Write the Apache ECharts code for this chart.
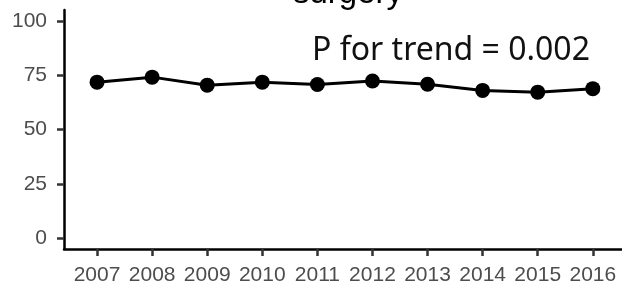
<!DOCTYPE html>
<html><head><meta charset="utf-8">
<script src="https://cdn.jsdelivr.net/npm/echarts@6/dist/echarts.min.js"></script>
<style>html,body{margin:0;padding:0;background:#fff}#c{width:622px;height:286px}</style>
</head><body><div id="c"></div>
<script>
const years = [2007, 2008, 2009, 2010, 2011, 2012, 2013, 2014, 2015, 2016];
const values = [71.8, 74.1, 70.4, 71.8, 70.7, 72.3, 70.8, 68.0, 67.2, 68.8];
const yTicks = [0, 25, 50, 75, 100];
const titleText = 'surgery';
const annotation = 'P for trend = 0.002';

const chart = echarts.init(document.getElementById('c'), null, {renderer: 'canvas'});
chart.setOption({
  animation: false,
  backgroundColor: '#fff',
  title: {
    text: titleText, left: 343, textAlign: 'center', top: -28,
    textStyle: {fontFamily: 'Liberation Sans', fontSize: 33, fontWeight: 'normal', color: '#000'}
  },
  grid: {left: 64, right: 0, top: 10, bottom: 36},
  xAxis: {
    type: 'value', min: 2006.4, max: 2016.53,
    splitLine: {show: false},
    axisLine: {show: true, onZero: false, lineStyle: {color: '#000', width: 2.5}},
    axisTick: {show: true, customValues: years, length: 7, lineStyle: {color: '#333', width: 2.5}},
    axisLabel: {customValues: years, margin: 16, fontFamily: 'Liberation Sans', fontSize: 21, color: '#4d4d4d', formatter: v => String(v)}
  },
  yAxis: {
    type: 'value', min: -5, max: 105,
    splitLine: {show: false},
    axisLine: {show: true, onZero: false, lineStyle: {color: '#000', width: 2.5}},
    axisTick: {show: true, customValues: yTicks, length: 7, lineStyle: {color: '#333', width: 2.5}},
    axisLabel: {customValues: yTicks, margin: 17, fontFamily: 'Liberation Sans', fontSize: 21, color: '#4d4d4d'}
  },
  series: [{
    type: 'line',
    data: years.map((y, i) => [y, values[i]]),
    symbol: 'circle', symbolSize: 15,
    lineStyle: {color: '#000', width: 3},
    itemStyle: {color: '#000'}
  }],
  graphic: [{
    type: 'text', x: 451, y: 51,
    style: {text: annotation, fontFamily: 'Noto Sans', fontSize: 32, fill: '#111', align: 'center', verticalAlign: 'middle'}
  }]
});
</script></body></html>
